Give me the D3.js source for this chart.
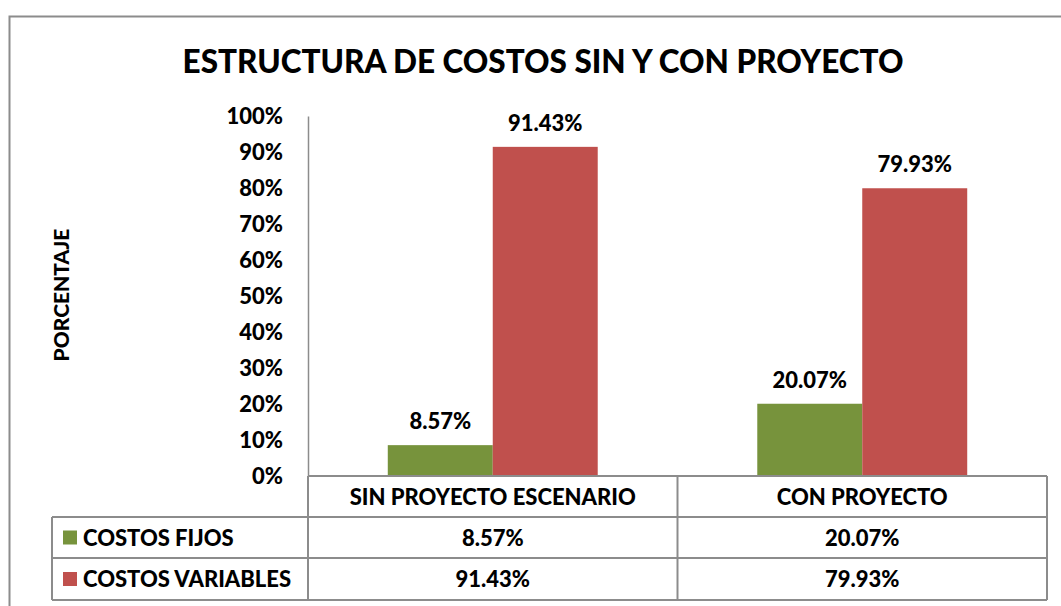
<!DOCTYPE html>
<html lang="es">
<head>
<meta charset="UTF-8">
<title>Estructura de costos</title>
<script src="https://d3js.org/d3.v7.min.js"></script>
<style>
    body { margin: 0; padding: 0; background: #fff; }
    svg { display: block; font-family: Lato, 'Liberation Sans', sans-serif; font-weight: 900; }
</style>
</head>
<body>
<div id="chart"></div>
<script>
// data
const categories = ["SIN PROYECTO ESCENARIO", "CON PROYECTO"];
const seriesNames = ["COSTOS FIJOS", "COSTOS VARIABLES"];
const costosFijos = [8.57, 20.07];
const costosVariables = [91.43, 79.93];
const yTicks = [0, 10, 20, 30, 40, 50, 60, 70, 80, 90, 100];
const colors = ["#77933C", "#C0504D"];

const width = 1061, height = 606;
const svg = d3.select("#chart").append("svg")
    .attr("width", width).attr("height", height);

// outer chart border (top and left visible)
svg.append("path")
    .attr("d", "M9.5,606 V16.5 H1061")
    .attr("fill", "none").attr("stroke", "#8c8c8c").attr("stroke-width", 2);

svg.append("text")
    .attr("x", 543).attr("y", 73)
    .attr("text-anchor", "middle")
    .style("font-size", "31.5px")
    .text("ESTRUCTURA DE COSTOS SIN Y CON PROYECTO");

const plotLeft = 308, plotRight = 1047, plotTop = 116, plotBottom = 476;

const x0 = d3.scaleBand().domain(categories).range([plotLeft, plotRight]);
const x1 = d3.scaleBand().domain(seriesNames).range([0, x0.bandwidth()]).paddingOuter(0.76).paddingInner(0);
const y = d3.scaleLinear().domain([0, 100]).range([plotBottom, plotTop]);

// y axis
const yAxis = d3.axisLeft(y).tickValues(yTicks).tickFormat(d => d + "%").tickSize(0).tickPadding(25);
const gy = svg.append("g").attr("transform", `translate(${plotLeft},0)`).call(yAxis);
gy.select(".domain").attr("stroke", "#8c8c8c").attr("stroke-width", 1.5);
gy.selectAll("text").style("font-size", "22px").style("font-family", "Lato, 'Liberation Sans', sans-serif").attr("fill", "#000");

svg.append("text")
    .attr("transform", "translate(69,295) rotate(-90)")
    .attr("text-anchor", "middle")
    .style("font-size", "21px")
    .text("PORCENTAJE");

// bars
const series = [costosFijos, costosVariables];
const groups = svg.append("g").selectAll("g")
    .data(categories)
    .join("g")
    .attr("transform", d => `translate(${x0(d)},0)`);

groups.selectAll("rect")
    .data((d, i) => seriesNames.map((s, j) => ({ s: s, v: series[j][i], c: colors[j] })))
    .join("rect")
    .attr("x", d => x1(d.s))
    .attr("width", x1.bandwidth())
    .attr("y", d => y(d.v))
    .attr("height", d => y(0) - y(d.v))
    .attr("fill", d => d.c);

groups.selectAll("text.val")
    .data((d, i) => seriesNames.map((s, j) => ({ s: s, v: series[j][i] })))
    .join("text")
    .attr("class", "val")
    .attr("x", d => x1(d.s) + x1.bandwidth() / 2)
    .attr("y", d => y(d.v) - 16)
    .attr("text-anchor", "middle")
    .style("font-size", "22px")
    .text(d => d.v.toFixed(2) + "%");

// data table
const tableLeft = 52;
const rowH = [plotBottom, 517, 558, 600];
const lineColor = "#8c8c8c";
const tbl = svg.append("g");

// horizontal lines
tbl.append("line").attr("x1", plotLeft).attr("x2", plotRight).attr("y1", rowH[0]).attr("y2", rowH[0]);
rowH.slice(1).forEach(yy => {
    tbl.append("line").attr("x1", tableLeft).attr("x2", plotRight).attr("y1", yy).attr("y2", yy);
});
// vertical lines
tbl.append("line").attr("x1", tableLeft).attr("x2", tableLeft).attr("y1", rowH[1]).attr("y2", rowH[3]);
[plotLeft, x0(categories[1]), plotRight].forEach(xx => {
    tbl.append("line").attr("x1", xx).attr("x2", xx).attr("y1", rowH[0]).attr("y2", rowH[3]);
});
tbl.selectAll("line").attr("stroke", lineColor).attr("stroke-width", 2);

// header
categories.forEach(c => {
    tbl.append("text")
        .attr("x", x0(c) + x0.bandwidth() / 2).attr("y", 505)
        .attr("text-anchor", "middle").style("font-size", "22px").text(c);
});

// rows
seriesNames.forEach((s, j) => {
    const top = rowH[j + 1], bot = rowH[j + 2];
    const mid = (top + bot) / 2;
    tbl.append("rect").attr("x", 63).attr("y", mid - 7).attr("width", 14).attr("height", 14).attr("fill", colors[j]);
    tbl.append("text").attr("x", 83).attr("y", mid + 8).style("font-size", "22px").text(s);
    categories.forEach((c, i) => {
        tbl.append("text")
            .attr("x", x0(c) + x0.bandwidth() / 2).attr("y", mid + 8)
            .attr("text-anchor", "middle").style("font-size", "22px")
            .text(series[j][i].toFixed(2) + "%");
    });
});
</script>
</body>
</html>
